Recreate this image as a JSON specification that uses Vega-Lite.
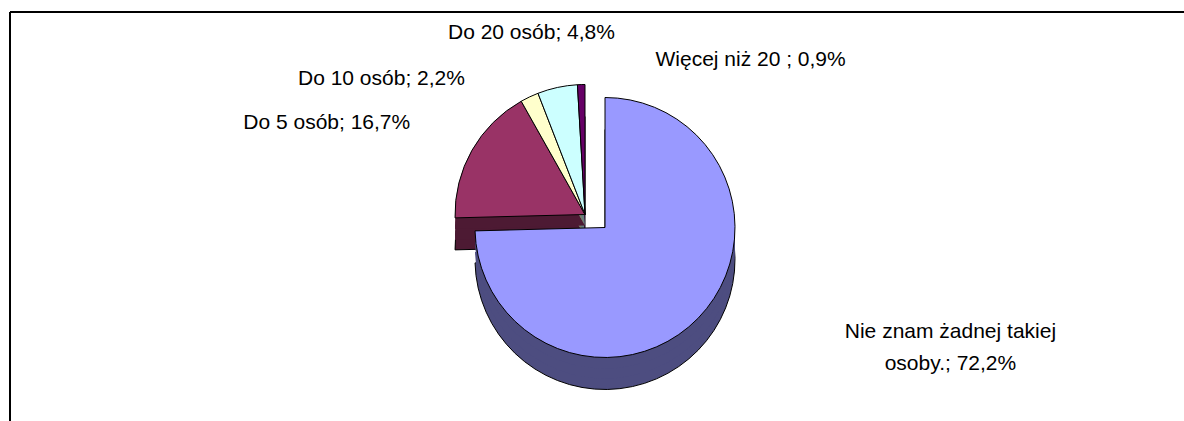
{
  "$schema": "https://vega.github.io/schema/vega-lite/v6.json",
  "width": 1174,
  "height": 409,
  "autosize": "none",
  "padding": {"left": 10, "top": 12, "right": 0, "bottom": 0},
  "background": "white",
  "view": {"stroke": "black", "strokeWidth": 2, "strokeDash": [1174, 1583, 409, 0], "fill": "white"},
  "data": {
    "values": [
      {"nr": 1, "kategoria": "Nie znam żadnej takiej osoby.", "procent": 72.2, "etykieta": "Nie znam żadnej takiej\nosoby.; 72,2%"},
      {"nr": 2, "kategoria": "Do 5 osób", "procent": 16.7, "etykieta": "Do 5 osób; 16,7%"},
      {"nr": 3, "kategoria": "Do 10 osób", "procent": 2.2, "etykieta": "Do 10 osób; 2,2%"},
      {"nr": 4, "kategoria": "Do 20 osób", "procent": 4.8, "etykieta": "Do 20 osób; 4,8%"},
      {"nr": 5, "kategoria": "Więcej niż 20", "procent": 0.9, "etykieta": "Więcej niż 20 ; 0,9%"}
    ]
  },
  "encoding": {
    "theta": {"field": "procent", "type": "quantitative", "stack": true},
    "order": {"field": "nr", "type": "quantitative"},
    "detail": {"field": "kategoria", "type": "nominal"}
  },
  "layer": [
    {
      "mark": {"type": "arc", "radius": 130, "xOffset": -12, "yOffset": 30, "strokeWidth": 1},
      "encoding": {
        "fill": {"condition": [
          {"test": "datum.nr === 2", "value": "#4D1A33"},
          {"test": "datum.nr === 3", "value": "#808066"},
          {"test": "datum.nr === 4", "value": "#668080"},
          {"test": "datum.nr === 5", "value": "#330033"}
        ], "value": "transparent"},
        "stroke": {"condition": {"test": "datum.nr !== 1", "value": "black"}, "value": "transparent"}
      }
    },
    {
      "mark": {"type": "arc", "radius": 130, "xOffset": -12, "yOffset": 20, "strokeWidth": 0},
      "encoding": {
        "fill": {"condition": [
          {"test": "datum.nr === 2", "value": "#4D1A33"},
          {"test": "datum.nr === 3", "value": "#808066"},
          {"test": "datum.nr === 4", "value": "#668080"},
          {"test": "datum.nr === 5", "value": "#330033"}
        ], "value": "transparent"}
      }
    },
    {
      "mark": {"type": "arc", "radius": 130, "xOffset": -12, "yOffset": 9, "strokeWidth": 0},
      "encoding": {
        "fill": {"condition": [
          {"test": "datum.nr === 2", "value": "#4D1A33"},
          {"test": "datum.nr === 3", "value": "#808066"},
          {"test": "datum.nr === 4", "value": "#668080"},
          {"test": "datum.nr === 5", "value": "#330033"}
        ], "value": "transparent"}
      }
    },
    {
      "mark": {"type": "arc", "radius": 130, "xOffset": -12, "yOffset": -2, "strokeWidth": 1},
      "encoding": {
        "fill": {"condition": [
          {"test": "datum.nr === 2", "value": "#993366"},
          {"test": "datum.nr === 3", "value": "#FFFFCC"},
          {"test": "datum.nr === 4", "value": "#CCFFFF"},
          {"test": "datum.nr === 5", "value": "#660066"}
        ], "value": "transparent"},
        "stroke": {"condition": {"test": "datum.nr !== 1", "value": "black"}, "value": "transparent"}
      }
    },
    {
      "mark": {"type": "arc", "radius": 130, "xOffset": 8, "yOffset": 43, "strokeWidth": 1},
      "encoding": {
        "fill": {"condition": {"test": "datum.nr === 1", "value": "#4D4D80"}, "value": "transparent"},
        "stroke": {"condition": {"test": "datum.nr === 1", "value": "black"}, "value": "transparent"}
      }
    },
    {
      "mark": {"type": "arc", "radius": 130, "xOffset": 8, "yOffset": 32, "strokeWidth": 0},
      "encoding": {
        "fill": {"condition": {"test": "datum.nr === 1", "value": "#4D4D80"}, "value": "transparent"}
      }
    },
    {
      "mark": {"type": "arc", "radius": 130, "xOffset": 8, "yOffset": 22, "strokeWidth": 0},
      "encoding": {
        "fill": {"condition": {"test": "datum.nr === 1", "value": "#4D4D80"}, "value": "transparent"}
      }
    },
    {
      "mark": {"type": "arc", "radius": 130, "xOffset": 8, "yOffset": 11, "strokeWidth": 1},
      "encoding": {
        "fill": {"condition": {"test": "datum.nr === 1", "value": "#9999FF"}, "value": "transparent"},
        "stroke": {"condition": {"test": "datum.nr === 1", "value": "black"}, "value": "transparent"}
      }
    },
    {
      "mark": {"type": "text", "radius": 186, "xOffset": -12, "yOffset": -2, "dx": -13, "align": "right", "baseline": "middle", "font": "Liberation Sans", "fontSize": 21, "color": "black"},
      "encoding": {
        "text": {"field": "etykieta", "type": "nominal"},
        "opacity": {"condition": {"test": "datum.nr === 2", "value": 1}, "value": 0}
      }
    },
    {
      "mark": {"type": "text", "radius": 150, "xOffset": -12, "yOffset": -2, "dx": -56, "align": "right", "baseline": "middle", "font": "Liberation Sans", "fontSize": 21, "color": "black"},
      "encoding": {
        "text": {"field": "etykieta", "type": "nominal"},
        "opacity": {"condition": {"test": "datum.nr === 3", "value": 1}, "value": 0}
      }
    },
    {
      "mark": {"type": "text", "radius": 186, "xOffset": -12, "yOffset": -2, "dx": -14, "align": "center", "baseline": "middle", "font": "Liberation Sans", "fontSize": 21, "color": "black"},
      "encoding": {
        "text": {"field": "etykieta", "type": "nominal"},
        "opacity": {"condition": {"test": "datum.nr === 4", "value": 1}, "value": 0}
      }
    },
    {
      "mark": {"type": "text", "radius": 155, "xOffset": -12, "yOffset": -2, "dx": 75, "align": "left", "baseline": "middle", "font": "Liberation Sans", "fontSize": 21, "color": "black"},
      "encoding": {
        "text": {"field": "etykieta", "type": "nominal"},
        "opacity": {"condition": {"test": "datum.nr === 5", "value": 1}, "value": 0}
      }
    },
    {
      "mark": {"type": "text", "radius": 150, "xOffset": 8, "yOffset": 11, "dx": 238, "align": "center", "baseline": "middle", "lineBreak": "\n", "lineHeight": 32, "font": "Liberation Sans", "fontSize": 21, "color": "black"},
      "encoding": {
        "text": {"field": "etykieta", "type": "nominal"},
        "opacity": {"condition": {"test": "datum.nr === 1", "value": 1}, "value": 0}
      }
    }
  ]
}
